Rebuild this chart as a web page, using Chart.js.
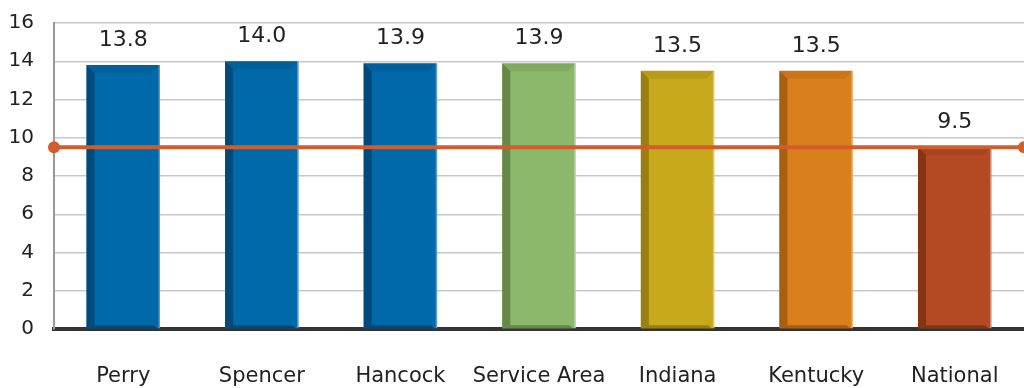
<!DOCTYPE html>
<html>
<head>
<meta charset="utf-8">
<script src="https://cdn.jsdelivr.net/npm/chart.js@4"></script>
<style>
  html, body { margin: 0; padding: 0; background: #fff; }
  #wrap { width: 1024px; height: 388px; }
</style>
</head>
<body>
<div id="wrap"><canvas id="chart" width="1024" height="388"></canvas></div>
<script>
const categories = ["Perry", "Spencer", "Hancock", "Service Area", "Indiana", "Kentucky", "National"];
const rates = [13.8, 14.0, 13.9, 13.9, 13.5, 13.5, 9.5];
const barColors = ["#0069aa", "#0069aa", "#0069aa", "#8bb86b", "#c8a91b", "#d9801c", "#b44a23"];
const sideColors = ["#004a7b", "#004a7b", "#004a7b", "#66884a", "#9a7f10", "#a85f10", "#873413"];
const nationalLine = [9.5, 9.5]; // reference line drawn across the full width
const yTicks = [0, 2, 4, 6, 8, 10, 12, 14, 16];

const FONT = "'DejaVu Sans', sans-serif";

// darker left side + bevelled top/bottom, like the 3D bars in the picture
const bevelPlugin = {
  id: "bevel",
  afterDatasetDraw(chart, args) {
    if (args.index !== 0) return;
    const ctx = chart.ctx;
    const meta = args.meta;
    meta.data.forEach((bar, i) => {
      const p = bar.getProps(["x", "y", "base", "width"], true);
      const l = p.x - p.width / 2, r = p.x + p.width / 2, t = p.y, b = p.base;
      const s = 8;
      ctx.save();
      // left face
      ctx.fillStyle = sideColors[i];
      ctx.beginPath();
      ctx.moveTo(l, t);
      ctx.lineTo(l + s, t + s);
      ctx.lineTo(l + s, b - 3);
      ctx.lineTo(l, b);
      ctx.closePath();
      ctx.fill();
      // top face
      ctx.fillStyle = "rgba(0,0,0,0.08)";
      ctx.beginPath();
      ctx.moveTo(l, t);
      ctx.lineTo(r, t);
      ctx.lineTo(r - s, t + s);
      ctx.lineTo(l + s, t + s);
      ctx.closePath();
      ctx.fill();
      // bottom face
      ctx.fillStyle = sideColors[i];
      ctx.beginPath();
      ctx.moveTo(l + s, b - 3);
      ctx.lineTo(r - 6, b - 3);
      ctx.lineTo(r - 3, b);
      ctx.lineTo(l, b);
      ctx.closePath();
      ctx.fill();
      // light right edge
      ctx.fillStyle = "rgba(255,255,255,0.35)";
      ctx.fillRect(r - 1.5, t, 1.5, b - t);
      ctx.restore();
    });
  }
};

const labelPlugin = {
  id: "valueLabels",
  afterDatasetsDraw(chart) {
    const ctx = chart.ctx;
    const meta = chart.getDatasetMeta(0);
    ctx.save();
    ctx.font = "22px " + FONT;
    ctx.fillStyle = "#222";
    ctx.textAlign = "center";
    ctx.textBaseline = "alphabetic";
    meta.data.forEach((bar, i) => {
      ctx.fillText(rates[i].toFixed(1), bar.x, bar.y - 19);
    });
    ctx.restore();
  }
};

new Chart(document.getElementById("chart"), {
  data: {
    labels: categories,
    datasets: [
      {
        type: "bar",
        data: rates,
        backgroundColor: barColors,
        borderWidth: 0,
        grouped: false,
        categoryPercentage: 1,
        barPercentage: 0.53,
        order: 2
      },
      {
        type: "line",
        data: nationalLine.map((v, i) => ({ x: i, y: v })),
        xAxisID: "x2",
        borderColor: "#d35c2c",
        borderWidth: 4,
        pointRadius: 6,
        pointBackgroundColor: "#d35c2c",
        pointBorderWidth: 0,
        clip: false,
        order: 1
      }
    ]
  },
  options: {
    responsive: false,
    animation: false,
    events: [],
    layout: { autoPadding: false, padding: { top: 23, right: 0, left: 0, bottom: 0 } },
    plugins: { legend: { display: false }, tooltip: { enabled: false } },
    scales: {
      x: {
        grid: { display: false },
        border: { display: true, color: "#333", width: 4 },
        ticks: { color: "#222", font: { family: FONT, size: 21 }, padding: 27, maxRotation: 0, autoSkip: false },
        afterFit(scale) { scale.height = 59; scale.paddingLeft = 0; scale.paddingRight = 0; }
      },
      x2: {
        type: "linear",
        min: 0,
        max: 1,
        display: false
      },
      y: {
        min: 0,
        max: 16,
        afterBuildTicks(scale) { scale.ticks = yTicks.map(v => ({ value: v })); },
        grid: { color: "#c8c8c8", lineWidth: 1.5, drawTicks: false },
        border: { display: true, color: "#999", width: 2 },
        ticks: { color: "#222", font: { family: FONT, size: 20 }, padding: 20 },
        afterFit(scale) { scale.width = 54; scale.paddingTop = 0; scale.paddingBottom = 0; }
      }
    }
  },
  plugins: [bevelPlugin, labelPlugin]
});
</script>
</body>
</html>
